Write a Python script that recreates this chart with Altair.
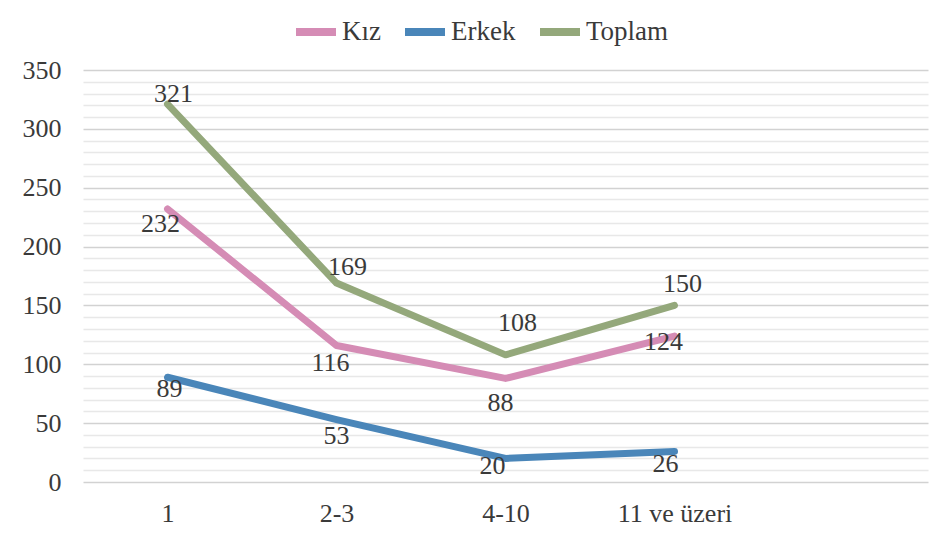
import altair as alt
import pandas as pd

categories = ["1", "2-3", "4-10", "11 ve üzeri"]
x_domain = categories + [" "]
series = ["Kız", "Erkek", "Toplam"]
kiz = [232, 116, 88, 124]
erkek = [89, 53, 20, 26]
toplam = [321, 169, 108, 150]
colors = ["#D58CB5", "#4A86B9", "#94A87B"]

# label offsets (dx, dy) per series/category, styling only
label_offsets = {
    "Kız": [(-7, 15), (-6, 18), (-5, 25), (-11, 6)],
    "Erkek": [(2, 12), (0, 16), (-13, 8), (-9, 13)],
    "Toplam": [(6, -10), (11, -16), (12, -32), (8, -21)],
}

rows = []
for s, vals in zip(series, [kiz, erkek, toplam]):
    for i, (c, v) in enumerate(zip(categories, vals)):
        rows.append({"Kategori": c, "Sıra": i, "Seri": s, "Değer": v})
df = pd.DataFrame(rows)

FONT = "Liberation Serif"
TXT = "#3a3a3a"
FS = 26

x = alt.X("Kategori:N", scale=alt.Scale(domain=x_domain),
          sort=x_domain,
          axis=alt.Axis(title=None, labelAngle=0, domain=False, ticks=False,
                        grid=False, labelPadding=18))
y = alt.Y("Değer:Q", scale=alt.Scale(domain=[0, 350], nice=False),
          axis=alt.Axis(title=None, values=list(range(0, 351, 10)),
                        labelExpr="datum.value % 50 === 0 ? datum.label : ''",
                        labelOverlap=False,
                        domain=False, ticks=False, labelPadding=22,
                        gridColor={"condition": {"test": "datum.value % 50 === 0", "value": "#D2D2D2"},
                                   "value": "#E8E8E8"},
                        gridWidth=1.5))
color = alt.Color("Seri:N", scale=alt.Scale(domain=series, range=colors),
                  legend=alt.Legend(title=None, orient="none", direction="horizontal",
                                    legendX=209, legendY=-62, symbolType="stroke",
                                    symbolSize=1600, symbolStrokeWidth=8,
                                    columnPadding=8, labelOffset=2))

base = alt.Chart(df)
lines = base.mark_line(strokeWidth=7, strokeCap="round", strokeJoin="round").encode(
    x=x, y=y, color=color, order=alt.Order("Sıra:Q"))

layers = [lines]
for s in series:
    for i, c in enumerate(categories):
        dx, dy = label_offsets[s][i]
        layers.append(
            base.transform_filter(
                (alt.datum.Seri == s) & (alt.datum.Kategori == c)
            ).mark_text(font=FONT, fontSize=FS, color=TXT, dx=dx, dy=dy,
                        baseline="middle", align="center").encode(
                x=x, y=y, text="Değer:Q")
        )

chart = alt.layer(*layers).properties(
    width=845, height=412,
    autosize=alt.AutoSizeParams(type="none"),
    padding={"left": 75, "top": 62, "right": 5, "bottom": 48},
).configure_view(stroke=None).configure_line(
    interpolate="linear"
).configure_axis(
    labelFont=FONT, labelFontSize=FS, labelColor=TXT
).configure_legend(
    labelFont=FONT, labelFontSize=27, labelColor=TXT
)

chart.save("out.html", embed_options={"renderer": "svg", "actions": False})
